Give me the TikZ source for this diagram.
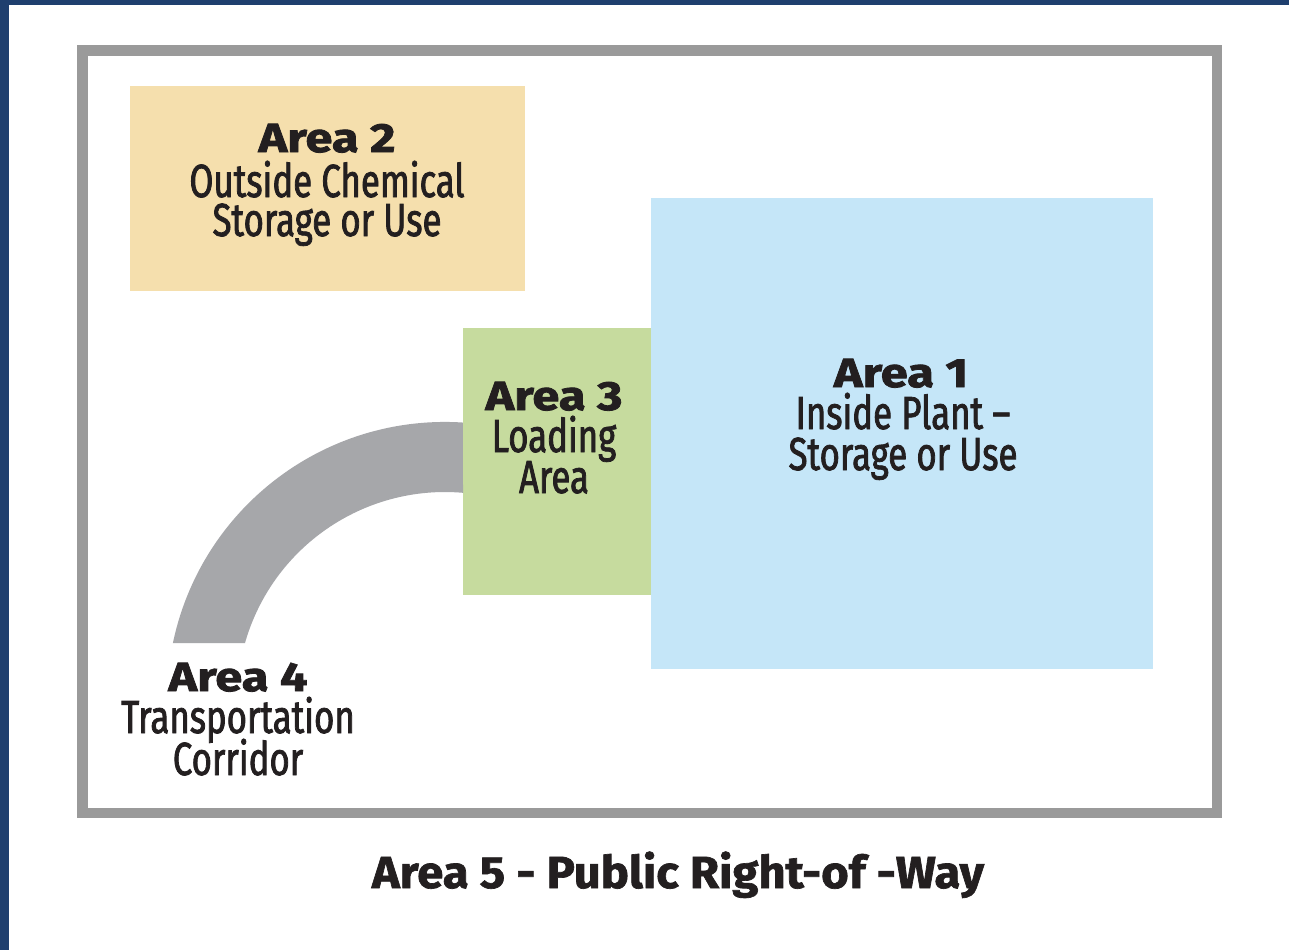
\documentclass[tikz,border=0pt]{standalone}
\usepackage{fontspec}
\setmainfont{Fira Sans}
\newfontfamily\condfont[FakeStretch=0.75,FakeBold=1.7]{Fira Sans}
\newfontfamily\headfont[FakeStretch=1.2,FakeBold=2]{Fira Sans Bold}
\newfontfamily\footfont[FakeStretch=1.05,FakeBold=1.5]{Fira Sans Bold}
\definecolor{edgeblue}{HTML}{1F3F6E}
\definecolor{framegray}{HTML}{9A9A9A}
\definecolor{tanfill}{HTML}{F5DFAD}
\definecolor{greenfill}{HTML}{C6DB9E}
\definecolor{bluefill}{HTML}{C5E6F8}
\definecolor{roadgray}{HTML}{A6A7AA}
\definecolor{inkc}{HTML}{231F20}
\tikzset{
  headtxt/.style={anchor=base, text=inkc, inner sep=0pt, text height=21pt, text depth=0pt, font=\headfont\fontsize{30.5}{30}\selectfont},
  bodytxt/.style={anchor=base, text=inkc, inner sep=0pt, text height=24pt, text depth=0pt, font=\condfont\fontsize{34.8}{30}\selectfont},
}
\begin{document}
\begin{tikzpicture}[x=0.75pt,y=-0.75pt]
\useasboundingbox (0,0) rectangle (1289,950);
\fill[white] (0,0) rectangle (1289,950);
% blue edges
\fill[edgeblue] (0,0) rectangle (1289,5);
\fill[edgeblue] (0,0) rectangle (9,950);
% frame
\draw[framegray, line width=7.9pt] (82.5,50.5) rectangle (1217,813);
% areas
\fill[tanfill] (130,86) rectangle (525,291);
\fill[bluefill] (651,198) rectangle (1153,669);
\fill[greenfill] (463,328) rectangle (651,595);
% road
\fill[roadgray] (172.9,643.1) arc[start angle=191.8,end angle=273.7,radius=278]
  -- (463,492.8) arc[start angle=274.96,end angle=195.9,radius=208] -- cycle;
% texts
\node[headtxt] (a2h) at (327,152) {Area 2};
\node[bodytxt] (a2a) at (327,197) {Outside Chemical};
\node[bodytxt] (a2b) at (327,236) {Storage or Use};
\node[headtxt] (a3h) at (554,410) {Area 3};
\node[bodytxt] (a3a) at (554,452) {Loading};
\node[bodytxt] (a3b) at (554,493) {Area};
\node[headtxt] (a1h) at (901,387) {Area 1};
\node[bodytxt] (a1a) at (903,429) {Inside Plant –};
\node[bodytxt] (a1b) at (903,470) {Storage or Use};
\node[headtxt] (a4h) at (238,691) {Area 4};
\node[bodytxt] (a4a) at (238,733) {Transportation};
\node[bodytxt] (a4b) at (238,775) {Corridor};
\node[headtxt, text height=23pt, font=\footfont\fontsize{33.7}{34}\selectfont] (a5) at (678,888) {Area 5 - Public Right-of -Way};
\end{tikzpicture}
\end{document}
